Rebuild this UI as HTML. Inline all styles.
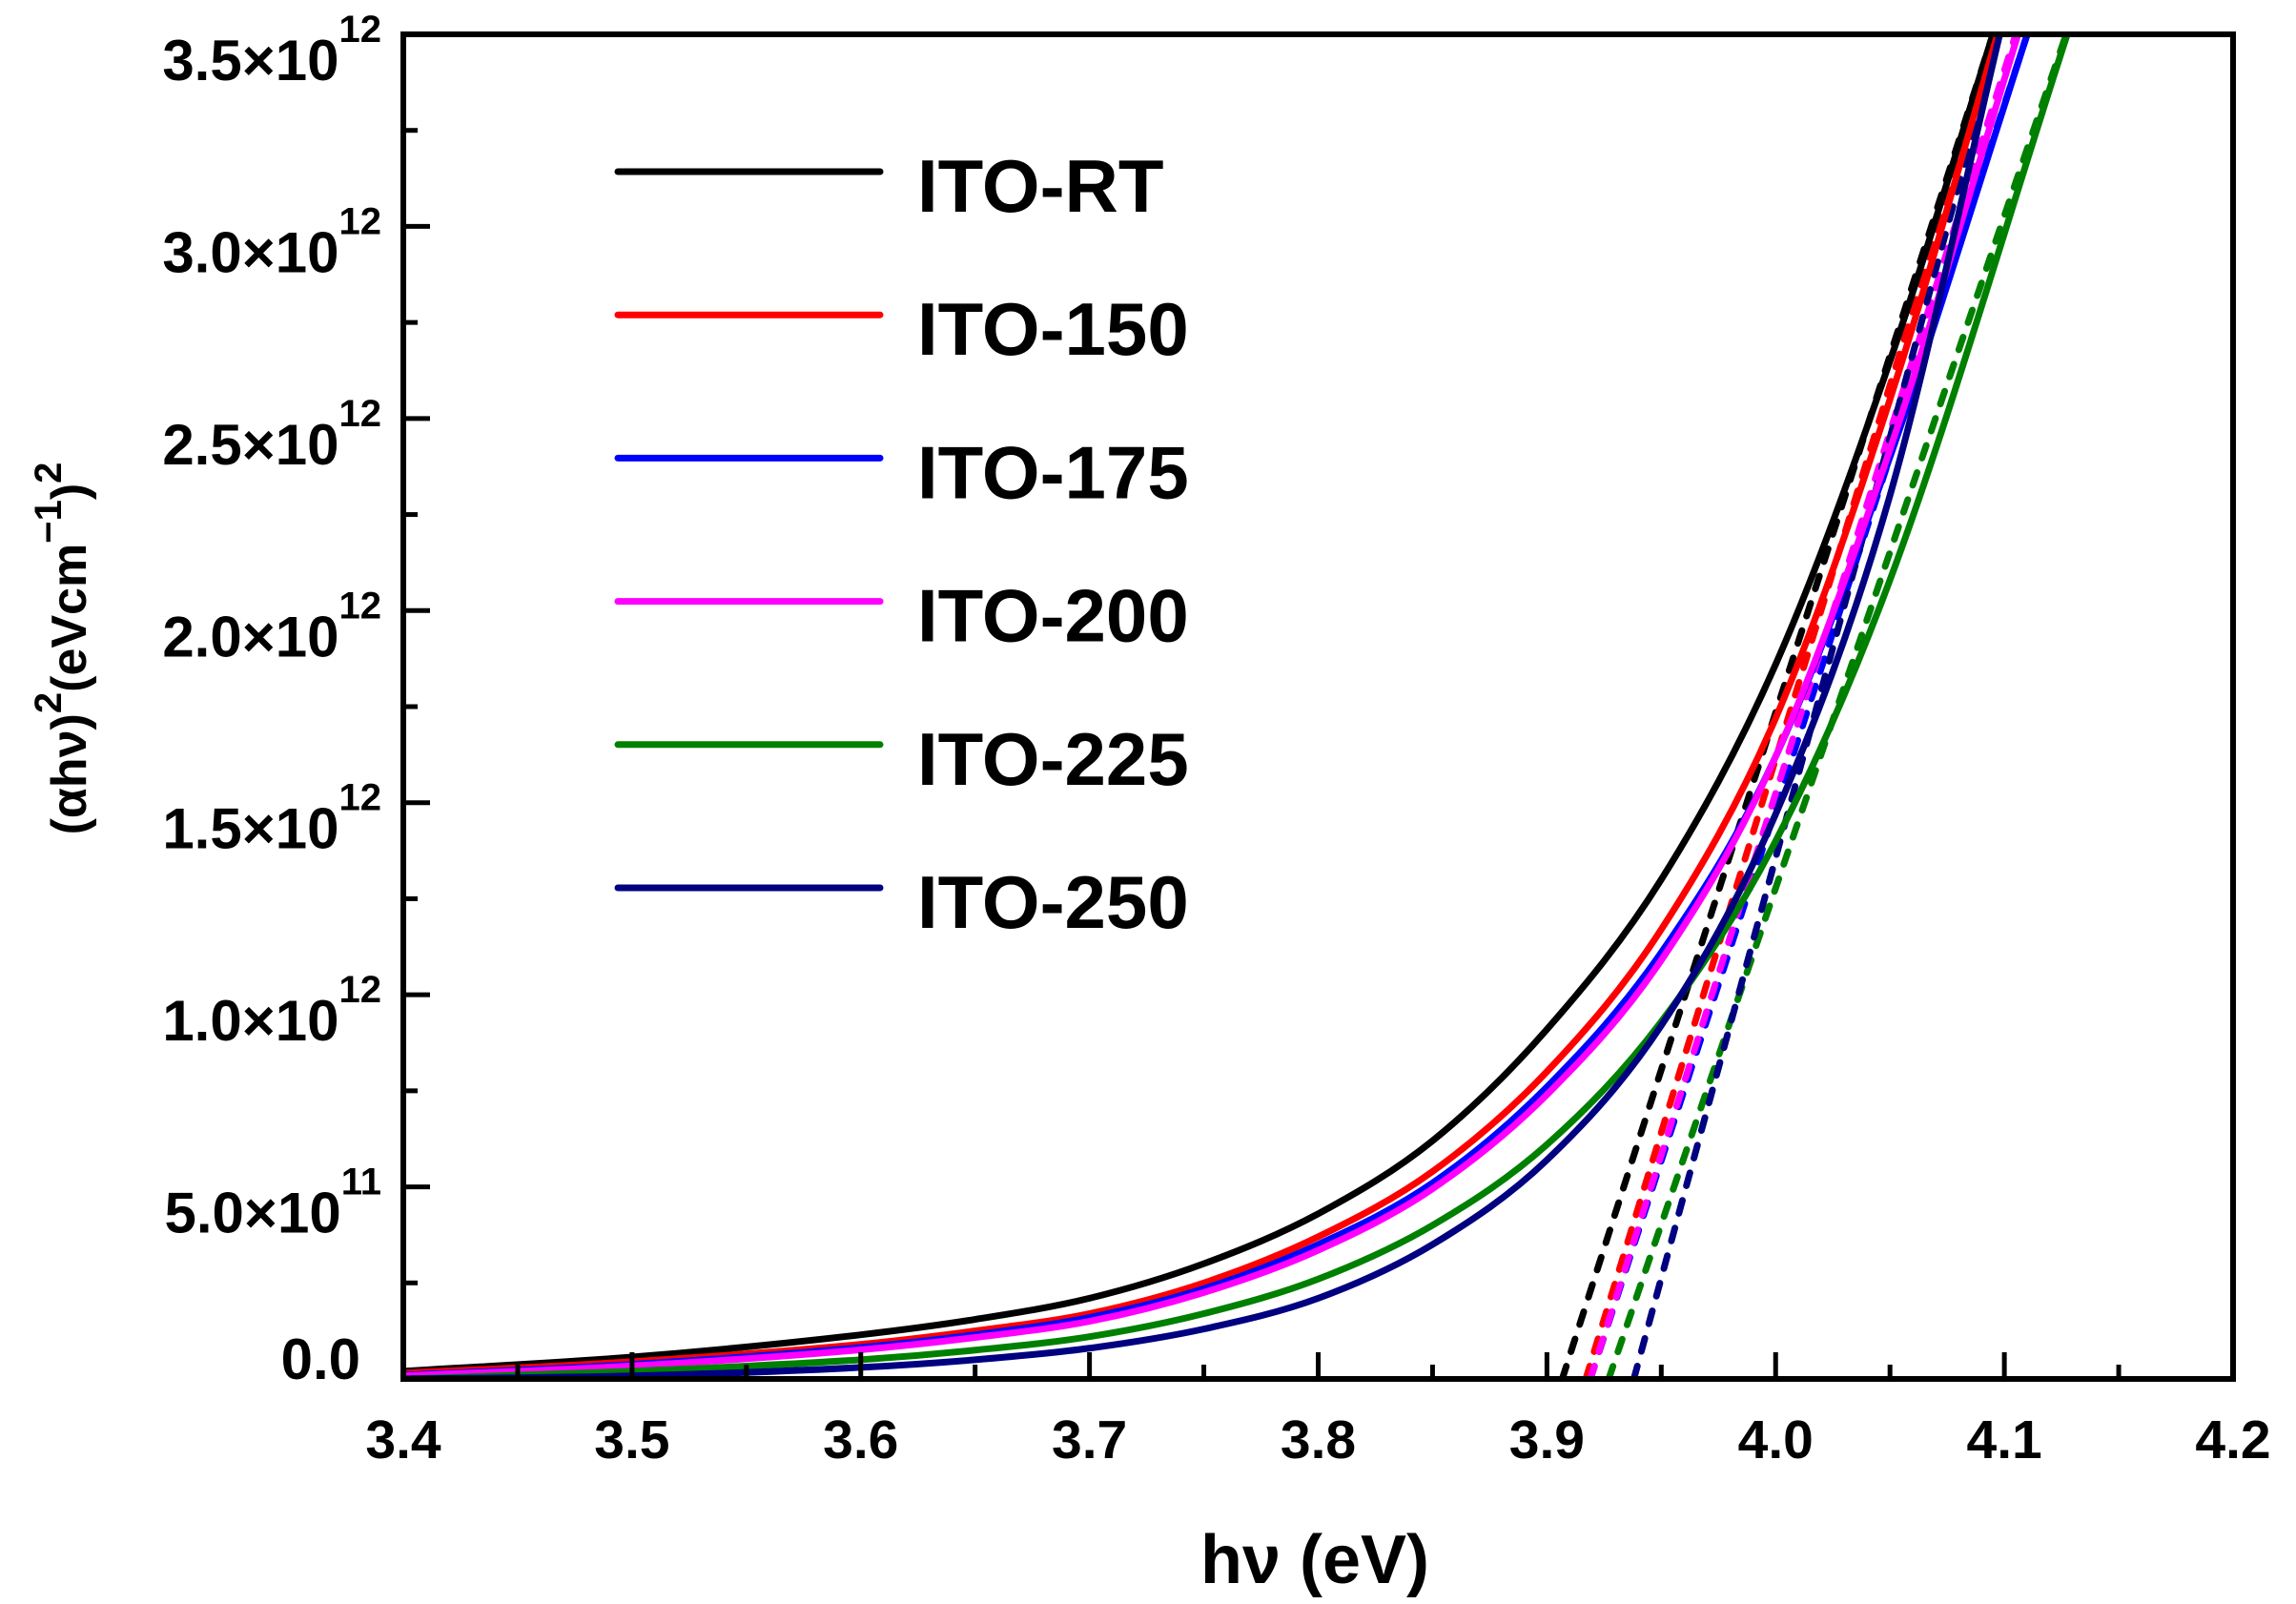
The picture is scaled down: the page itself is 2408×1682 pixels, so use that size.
<!DOCTYPE html>
<html><head><meta charset="utf-8"><style>
html,body{margin:0;padding:0;background:#fff;}
svg{display:block;font-family:"Liberation Sans",Arial,sans-serif;font-weight:bold;}
</style></head><body>
<svg id="chart" width="2408" height="1682" viewBox="0 0 2408 1682" xmlns="http://www.w3.org/2000/svg">
<defs><clipPath id="plotclip"><rect x="423" y="36" width="1919" height="1410"/></clipPath></defs>
<rect width="2408" height="1682" fill="#fff"/>
<g id="series" clip-path="url(#plotclip)"></g>
<g id="axes"></g>
<g id="legend"></g>
<text x="1379" y="1660" font-size="72" text-anchor="middle">hν (eV)</text>
<text transform="translate(90,680) rotate(-90)" font-size="52" text-anchor="middle">(αhν)<tspan font-size="40" dy="-26">2</tspan><tspan dy="26">(eVcm</tspan><tspan font-size="40" dy="-26">−1</tspan><tspan dy="26">)</tspan><tspan font-size="40" dy="-26">2</tspan></text>
</svg>
<script>
// ---- data ----
const seriesNames = ["ITO-RT","ITO-150","ITO-175","ITO-200","ITO-225","ITO-250"];
const seriesColors = ["#000000","#ff0000","#0000ff","#ff00ff","#008000","#000080"];
const xValues = [3.4,3.5,3.6,3.65,3.7,3.75,3.8,3.85,3.9,3.95,4.0,4.05];
const yRT  = [0.02,0.057,0.115,0.155,0.21,0.30,0.43,0.62,0.91,1.30,1.86,2.65];
const y150 = [0.015,0.045,0.09,0.125,0.17,0.25,0.37,0.54,0.80,1.17,1.72,2.55];
const y175 = [0.01,0.038,0.082,0.115,0.16,0.235,0.35,0.51,0.76,1.11,1.62,2.40];
const y200 = [0.008,0.034,0.076,0.108,0.15,0.225,0.335,0.495,0.74,1.09,1.62,2.42];
const y225 = [0.0,0.02,0.05,0.075,0.11,0.17,0.26,0.40,0.61,0.93,1.40,2.08];
const y250 = [0.0,0.008,0.03,0.05,0.08,0.13,0.21,0.35,0.57,0.92,1.47,2.30];
const seriesEndX = [4.095,4.097,4.110,4.106,4.1275,4.098];
const seriesEndY = [3.5,3.5,3.5,3.5,3.5,3.5];
const fitIntercept = [3.9067,3.917,3.919,3.919,3.927,3.938];
const fitTopX = [4.095,4.097,4.110,4.105,4.127,4.098];
const fitTopY = 3.5;
const xTicks = [3.4,3.5,3.6,3.7,3.8,3.9,4.0,4.1,4.2];
const xTickLabels = ["3.4","3.5","3.6","3.7","3.8","3.9","4.0","4.1","4.2"];
const yTicks = [0,0.5,1.0,1.5,2.0,2.5,3.0,3.5];
const yTickMant = ["0.0","5.0×10","1.0×10","1.5×10","2.0×10","2.5×10","3.0×10","3.5×10"];
const yTickExp = ["","11","12","12","12","12","12","12"];
// ---- scales ----
const X0=423,X1=2342,Y0=1446,Y1=36;
const xmin=3.4,xmax=4.2,ymin=0,ymax=3.5;
function sx(v){return X0+(v-xmin)/(xmax-xmin)*(X1-X0);}
function sy(v){return Y0-(v-ymin)/(ymax-ymin)*(Y0-Y1);}
const NS="http://www.w3.org/2000/svg";
function mk(tag,parent){const e=document.createElementNS(NS,tag);parent.appendChild(e);return e;}
function monoPath(px,py){
  const n=px.length,d=[],m=[];
  for(let i=0;i<n-1;i++)d.push((py[i+1]-py[i])/(px[i+1]-px[i]));
  m[0]=d[0];m[n-1]=d[n-2];
  for(let i=1;i<n-1;i++){m[i]=(d[i-1]*d[i]<=0)?0:(d[i-1]+d[i])/2;}
  for(let i=0;i<n-1;i++){if(d[i]===0){m[i]=m[i+1]=0;continue;}
    const a=m[i]/d[i],b=m[i+1]/d[i],s=a*a+b*b; if(s>9){const t=3/Math.sqrt(s);m[i]=t*a*d[i];m[i+1]=t*b*d[i];}}
  let p="M"+px[0]+","+py[0];
  for(let i=0;i<n-1;i++){const h=(px[i+1]-px[i])/3;
    p+=" C"+(px[i]+h)+","+(py[i]+m[i]*h)+" "+(px[i+1]-h)+","+(py[i+1]-m[i+1]*h)+" "+px[i+1]+","+py[i+1];}
  return p;
}
const ys=[yRT,y150,y175,y200,y225,y250];
const gS=document.getElementById('series');
for(let k=0;k<6;k++){
  const l=mk('line',gS);
  
  
  l.setAttribute('x1',sx(fitIntercept[k]));l.setAttribute('y1',sy(0));
  l.setAttribute('x2',sx(fitTopX[k]));l.setAttribute('y2',sy(fitTopY));
  l.setAttribute('stroke',seriesColors[k]);l.setAttribute('stroke-width','7');
  l.setAttribute('stroke-dasharray','14 16');l.setAttribute('stroke-linecap','round');
}
for(let k=0;k<6;k++){
  const px=xValues.map(sx).concat([sx(seriesEndX[k])]);
  const py=ys[k].map(sy).concat([sy(seriesEndY[k])]);
  const p=mk('path',gS);
  
  
  p.setAttribute('d',monoPath(px,py));p.setAttribute('fill','none');
  p.setAttribute('stroke',seriesColors[k]);p.setAttribute('stroke-width','7');
}
const gA=document.getElementById('axes');
const fr=mk('rect',gA);


fr.setAttribute('x',X0);fr.setAttribute('y',Y1);fr.setAttribute('width',X1-X0);fr.setAttribute('height',Y0-Y1);
fr.setAttribute('fill','none');fr.setAttribute('stroke','#000');fr.setAttribute('stroke-width','6');
for(let i=0;i<xTicks.length;i++){
  const x=sx(xTicks[i]);
  const t=mk('line',gA);
  
  
  t.setAttribute('x1',x);t.setAttribute('x2',x);t.setAttribute('y1',Y0);t.setAttribute('y2',Y0-28);
  t.setAttribute('stroke','#000');t.setAttribute('stroke-width','5');
  if(i<xTicks.length-1){const xm=sx(xTicks[i]+0.05);const m=mk('line',gA);
    
    
    m.setAttribute('x1',xm);m.setAttribute('x2',xm);m.setAttribute('y1',Y0);m.setAttribute('y2',Y0-15);
    m.setAttribute('stroke','#000');m.setAttribute('stroke-width','5');}
  const lb=mk('text',gA);
  
  
  lb.setAttribute('x',x);lb.setAttribute('y',1529);lb.setAttribute('font-size','57');lb.setAttribute('text-anchor','middle');
  lb.textContent=xTickLabels[i];
}
for(let i=0;i<yTicks.length;i++){
  const y=sy(yTicks[i]);
  const t=mk('line',gA);
  
  
  t.setAttribute('x1',X0);t.setAttribute('x2',X0+28);t.setAttribute('y1',y);t.setAttribute('y2',y);
  t.setAttribute('stroke','#000');t.setAttribute('stroke-width','5');
  if(i<yTicks.length-1){const ym=sy(yTicks[i]+0.25);const m=mk('line',gA);
    
    
    m.setAttribute('x1',X0);m.setAttribute('x2',X0+15);m.setAttribute('y1',ym);m.setAttribute('y2',ym);
    m.setAttribute('stroke','#000');m.setAttribute('stroke-width','5');}
  const lb=mk('text',gA);
  
  
  lb.setAttribute('text-anchor','end');lb.setAttribute('font-size','60');
  if(yTickExp[i]===""){lb.setAttribute('x',378);lb.setAttribute('y',y);lb.textContent=yTickMant[i];}
  else{lb.setAttribute('x',400);lb.setAttribute('y',y+48);
    const a=mk('tspan',lb);a.textContent=yTickMant[i];
    const b=mk('tspan',lb);b.setAttribute('font-size','40');b.setAttribute('dy','-40');b.textContent=yTickExp[i];}
}
const gL=document.getElementById('legend');
for(let k=0;k<6;k++){
  const y=180+k*150.2;
  const l=mk('line',gL);
  
  
  l.setAttribute('x1',648);l.setAttribute('x2',923);l.setAttribute('y1',y);l.setAttribute('y2',y);
  l.setAttribute('stroke',seriesColors[k]);l.setAttribute('stroke-width','7');l.setAttribute('stroke-linecap','round');
  const t=mk('text',gL);
  
  
  t.setAttribute('x',962);t.setAttribute('y',y+42);t.setAttribute('font-size','78');
  t.textContent=seriesNames[k];
}
</script>
</body></html>
